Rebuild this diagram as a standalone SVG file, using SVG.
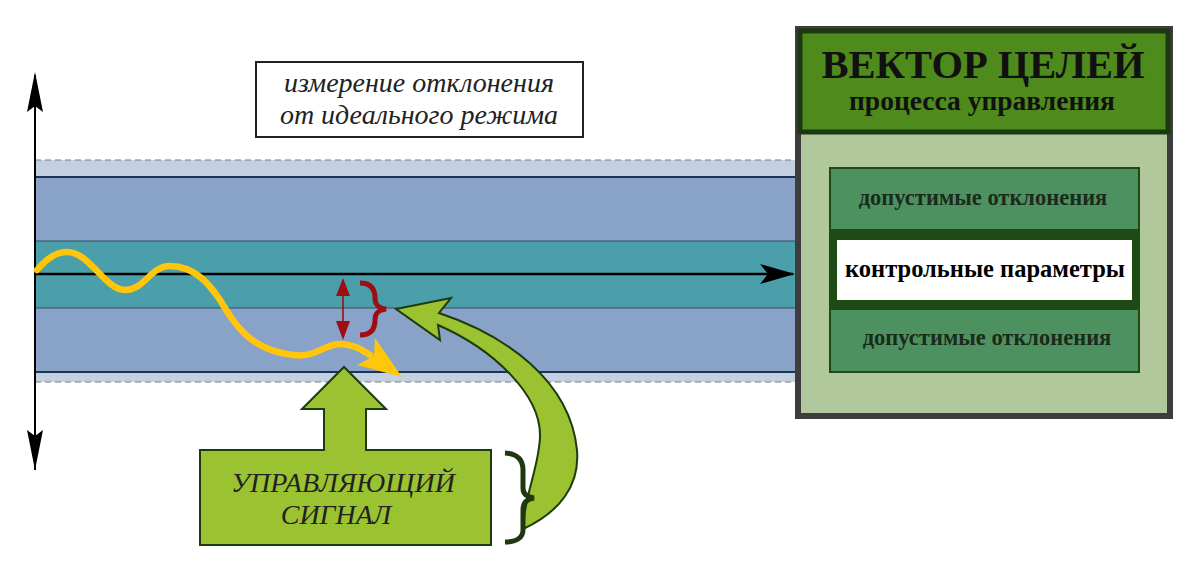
<svg xmlns="http://www.w3.org/2000/svg" width="1200" height="568" viewBox="0 0 1200 568">
<style>
.serif{font-family:"Liberation Serif","Times New Roman",serif}
.it{font-style:italic}
.b{font-weight:bold}
.dash{stroke:#7a7a7a;stroke-width:1.2;stroke-dasharray:6 4;fill:none}
.bandline{stroke:#1f3250;stroke-width:2}
.thin{stroke:#2f4f60;stroke-width:1}
.gfill{fill:#9ac231;stroke:#1e3a0f;stroke-width:2}
</style>
<rect width="1200" height="568" fill="#fff"/>

<g id="bands">
<rect x="35" y="160" width="760" height="222" fill="#c2d0e2"/>
<rect x="35" y="177" width="760" height="195" fill="#89a3c8"/>
<rect x="35" y="241" width="760" height="67" fill="#4b9fab"/>
<line x1="35" y1="160" x2="795" y2="160" class="dash"/>
<line x1="35" y1="382" x2="795" y2="382" class="dash"/>
<line x1="35" y1="177" x2="795" y2="177" class="bandline"/>
<line x1="35" y1="372" x2="795" y2="372" class="bandline"/>
<line x1="35" y1="241" x2="795" y2="241" class="thin"/>
<line x1="35" y1="308" x2="795" y2="308" class="thin"/>
</g>

<g id="measure-box">
<rect x="256" y="62" width="327" height="75" fill="#fff" stroke="#222" stroke-width="2"/>
<text x="419" y="92" text-anchor="middle" class="serif it" font-size="28" fill="#222">измерение отклонения</text>
<text x="419" y="124" text-anchor="middle" class="serif it" font-size="28" fill="#222">от идеального режима</text>
</g>

<g id="goal-vector">
<rect x="798" y="29" width="372" height="387" fill="#b1c89d" stroke="#3d3d3d" stroke-width="6"/>
<rect x="800" y="31" width="368" height="101" fill="#4e8a1c" stroke="#1c3a0f" stroke-width="5"/>
<text x="983" y="78" text-anchor="middle" class="serif b" font-size="40.5" fill="#111">ВЕКТОР ЦЕЛЕЙ</text>
<text x="982" y="110" text-anchor="middle" class="serif b" font-size="27.5" fill="#111">процесса управления</text>
<rect x="829" y="167" width="311" height="206" fill="#1e4a14"/>
<rect x="830" y="168" width="309" height="62" fill="#4d9160" stroke="#1e4a14" stroke-width="2"/>
<rect x="830" y="309" width="309" height="63" fill="#4d9160" stroke="#1e4a14" stroke-width="2"/>
<rect x="837" y="240" width="295" height="60" fill="#fff"/>
<text x="983" y="205" text-anchor="middle" class="serif b" font-size="22.5" fill="#1b2b1b">допустимые отклонения</text>
<text x="987" y="345" text-anchor="middle" class="serif b" font-size="22.5" fill="#1b2b1b">допустимые отклонения</text>
<text x="985" y="277" text-anchor="middle" class="serif b" font-size="24.5" fill="#000">контрольные параметры</text>
</g>

<g id="signal">
<path class="gfill" d="M344,367 L386,409 L366,409 L366,450 L491,450 L491,545 L200,545 L200,450 L324,450 L324,409 L302,409 Z"/>
<text x="343" y="492" text-anchor="middle" class="serif it" font-size="28" fill="#222">УПРАВЛЯЮЩИЙ</text>
<text x="336" y="524" text-anchor="middle" class="serif it" font-size="28" fill="#222">СИГНАЛ</text>
</g>

<g id="connectors">
<line x1="35" y1="470" x2="35" y2="75" stroke="#000" stroke-width="2"/>
<path d="M35,72 L43,112 L35,106 L27,112 Z" fill="#000"/>
<path d="M35,470 L43,430 L35,436 L27,430 Z" fill="#000"/>
<line x1="35" y1="274" x2="793" y2="274" stroke="#000" stroke-width="2.5"/>
<path d="M795,274 L760,264 L768,274 L760,284 Z" fill="#000"/>

<path d="M37,270 C47,258 57,252 67,252 C90,252 105,290 125,290 C145,290 150,266 170,266 C195,266 210,285 220,300 C235,325 250,350 293,355 C315,358 325,344 340,344 C350,344 360,348 370,355" fill="none" stroke="#ffc60b" stroke-width="6.5" stroke-linecap="round"/>
<path d="M402,377 L375,338 L374,356 L357,365 Z" fill="#ffc60b"/>

<line x1="343" y1="290" x2="343" y2="327" stroke="#a00c14" stroke-width="1.6"/>
<path d="M343,278 L350,296 L336,296 Z" fill="#a00c14"/>
<path d="M343,340 L350,321 L336,321 Z" fill="#a00c14"/>
<path d="M360,283 C372,283 375,290 375,298 C375,305 378,308 386,309 C378,310 375,313 375,320 C375,328 372,335 360,335" fill="none" stroke="#a00c14" stroke-width="5"/>

<path class="gfill" d="M396,309 L451,298 L439,313 C505,335 570,380 577,450 C580,485 560,512 523,529 C524,495 540,465 540,435 C540,395 495,350 438,325 L440,340 Z"/>
<path d="M505,453 C518,454 523,460 523,470 L523,488 C523,494 527,497 534,498 C527,499 523,502 523,510 L523,530 C523,538 516,542 505,542" fill="none" stroke="#1f3810" stroke-width="5"/>
</g>
</svg>
